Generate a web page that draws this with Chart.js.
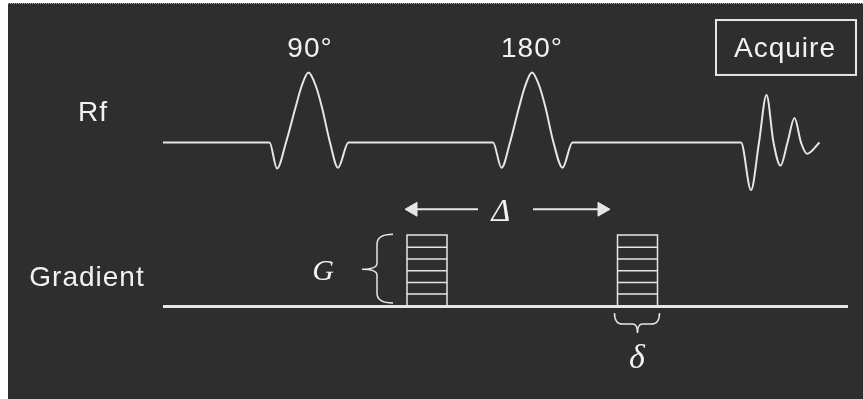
<!DOCTYPE html>
<html>
<head>
<meta charset="utf-8">
<script src="https://cdn.jsdelivr.net/npm/chart.js@4.4.1/dist/chart.umd.min.js"></script>
<style>
  html, body { margin: 0; padding: 0; background: #fff; }
  #wrap { position: relative; width: 863px; height: 399px; }
  #panel { position: absolute; left: 8px; top: 3px; right: 0; bottom: 0; background: #2e2e2e; border-top: 1px dotted #b0b0b0; }
  #seq { position: absolute; left: 0; top: 0; }
</style>
</head>
<body>
<div id="wrap"><div id="panel"></div><canvas id="seq" width="863" height="399"></canvas></div>
<script>
// time runs along x (0..863), Rf amplitude: peak of the 90/180 pulse = 1, gradient: full strength = 1
const rfStart = 163;

const pulse90T = [269.5, 277, 286, 295.5, 301.5, 308.5, 316, 322, 330, 338, 348.5];
const pulse90A = [0, -0.37, 0, 0.5, 0.8, 1, 0.8, 0.5, 0, -0.36, 0];
const pulse180T = [493, 501.5, 510, 519, 525, 532, 539.5, 545.5, 553.5, 562.5, 572.5];
const pulse180A = [0, -0.36, 0, 0.5, 0.8, 1, 0.8, 0.5, 0, -0.36, 0];
const fidT = [741, 751, 759, 766.5, 773.5, 780.5, 787.5, 794.5, 801, 807, 819.5];
const fidA = [0, -0.68, 0, 0.68, 0, -0.33, 0, 0.35, 0, -0.16, 0];

const gradLine = [163, 848];
const gradStart = [407, 617.5];
const gradDelta = 40; // delta, pulse length
const gradSteps = [0.175, 0.335, 0.5, 0.665, 0.83];

// Big Delta arrows (centres of the heads at the outer ends)
const arrowLeft = [413, 478];
const arrowRight = [533, 602];
const arrowLevel = 1.36;

const INK = '#e6e6e6';

function pts(ts, as) {
  return ts.map((t, i) => ({ x: t, y: as[i] }));
}

const rfData = [{ x: rfStart, y: 0 }]
  .concat(pts(pulse90T, pulse90A))
  .concat(pts(pulse180T, pulse180A))
  .concat(pts(fidT, fidA));

// gradient lobes: outline + the stacked steps, broken with nulls
const lobeData = [];
gradStart.forEach((s) => {
  const e = s + gradDelta;
  lobeData.push({ x: s, y: 0 }, { x: s, y: 1 }, { x: e, y: 1 }, { x: e, y: 0 }, { x: e, y: null });
  gradSteps.forEach((l) => {
    lobeData.push({ x: s, y: l }, { x: e, y: l }, { x: e, y: null });
  });
});

// text + braces drawn on top of the traces
const sequenceMarks = {
  id: 'sequenceMarks',
  afterDatasetsDraw(chart) {
    const { ctx } = chart;
    const X = (v) => chart.scales.x.getPixelForValue(v);
    const R = (v) => chart.scales.yRf.getPixelForValue(v);
    const G = (v) => chart.scales.yG.getPixelForValue(v);
    ctx.save();
    ctx.fillStyle = '#f2f2f2';
    ctx.strokeStyle = INK;
    ctx.textAlign = 'center';
    ctx.textBaseline = 'alphabetic';

    ctx.font = '28px "Liberation Sans", Arial, sans-serif';
    ctx.letterSpacing = '1px';
    ctx.fillText('90°', X(310), R(1.22));
    ctx.fillText('180°', X(532), R(1.22));
    ctx.fillText('Acquire', X(785), R(1.22));
    ctx.fillText('Rf', X(93), R(0.31));
    ctx.fillText('Gradient', X(87), G(0.29));

    // Acquire box
    ctx.lineWidth = 2;
    ctx.strokeRect(X(716), R(1.75), X(856) - X(716), R(0.965) - R(1.75));

    ctx.letterSpacing = '0px';
    ctx.font = 'italic 30px "Liberation Serif", "Times New Roman", serif';
    ctx.fillText('G', X(323), G(0.37));
    ctx.font = 'italic 32px "Liberation Serif", "Times New Roman", serif';
    ctx.fillText('Δ', X(501), G(1.2));
    ctx.font = 'italic 34px "Liberation Serif", "Times New Roman", serif';
    ctx.fillText('δ', X(637), G(-0.86));

    // brace beside the first lobe (G)
    ctx.lineWidth = 1.5;
    const bx = X(gradStart[0] - 14), tip = X(gradStart[0] - 45), cx = X(gradStart[0] - 30);
    const top = G(1.01), bot = G(0.05), mid = G(0.52);
    ctx.beginPath();
    ctx.moveTo(bx, top);
    ctx.quadraticCurveTo(cx, top, cx, top + 10);
    ctx.lineTo(cx, mid - 6);
    ctx.quadraticCurveTo(cx, mid, tip, mid);
    ctx.quadraticCurveTo(cx, mid, cx, mid + 6);
    ctx.lineTo(cx, bot - 10);
    ctx.quadraticCurveTo(cx, bot, bx, bot);
    ctx.stroke();

    // brace under the second lobe (delta)
    const l = X(gradStart[1] - 3), r = X(gradStart[1] + gradDelta + 2), m = X(gradStart[1] + gradDelta / 2);
    const y0 = G(-0.09), y1 = G(-0.245), y2 = G(-0.37);
    ctx.beginPath();
    ctx.moveTo(l, y0);
    ctx.quadraticCurveTo(l, y1, l + 8, y1);
    ctx.lineTo(m - 5, y1);
    ctx.quadraticCurveTo(m, y1, m, y2);
    ctx.quadraticCurveTo(m, y1, m + 5, y1);
    ctx.lineTo(r - 8, y1);
    ctx.quadraticCurveTo(r, y1, r, y0);
    ctx.stroke();
    ctx.restore();
  }
};

new Chart(document.getElementById('seq'), {
  type: 'line',
  data: {
    datasets: [
      {
        label: 'Rf',
        yAxisID: 'yRf',
        data: rfData,
        borderColor: INK,
        borderWidth: 2,
        cubicInterpolationMode: 'monotone',
        pointRadius: 0,
      },
      {
        label: 'Gradient',
        yAxisID: 'yG',
        data: gradLine.map((t) => ({ x: t, y: 0 })),
        borderColor: INK,
        borderWidth: 3,
        pointRadius: 0,
      },
      {
        label: 'lobes',
        yAxisID: 'yG',
        data: lobeData,
        borderColor: INK,
        borderWidth: 1.5,
        spanGaps: false,
        pointRadius: 0,
      },
      {
        label: 'arrow left',
        yAxisID: 'yG',
        data: arrowLeft.map((t) => ({ x: t, y: arrowLevel })),
        borderColor: INK,
        backgroundColor: INK,
        borderWidth: 2,
        pointStyle: 'triangle',
        pointRadius: [8, 0],
        pointRotation: [-90, 0],
        pointBorderWidth: 1,
      },
      {
        label: 'arrow right',
        yAxisID: 'yG',
        data: arrowRight.map((t) => ({ x: t, y: arrowLevel })),
        borderColor: INK,
        backgroundColor: INK,
        borderWidth: 2,
        pointStyle: 'triangle',
        pointRadius: [0, 8],
        pointRotation: [0, 90],
        pointBorderWidth: 1,
      },
    ],
  },
  options: {
    responsive: false,
    animation: false,
    devicePixelRatio: 1,
    layout: { padding: 0, autoPadding: false },
    plugins: { legend: { display: false }, tooltip: { enabled: false } },
    scales: {
      x: { type: 'linear', min: 0, max: 863, display: false },
      // baseline of Rf sits 142.5px down, 70px per unit
      yRf: { type: 'linear', min: -3.664, max: 2.036, display: false },
      // gradient baseline 306.5px down, 71.5px per unit
      yG: { type: 'linear', min: -1.294, max: 4.287, display: false },
    },
  },
  plugins: [sequenceMarks],
});
</script>
</body>
</html>
